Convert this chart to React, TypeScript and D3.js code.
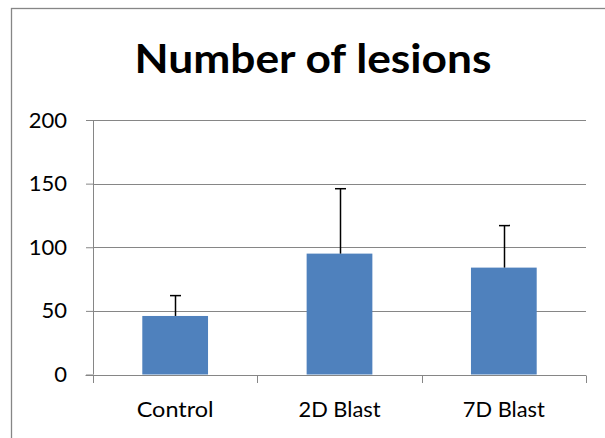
import React, { useEffect, useRef } from 'react';
import * as d3 from 'd3';

const categories = ['Control', '2D Blast', '7D Blast'];
const means = [46, 95, 84];
const errTops = [62, 146, 117];
const yTicks = [0, 50, 100, 150, 200];
const title = 'Number of lesions';

const W = 605;
const H = 438;

const App = () => {
  const svgRef = useRef<SVGSVGElement>(null);

  useEffect(() => {
    const svg = d3.select(svgRef.current);
    svg.selectAll('*').remove();

    const font = 'Lato, "Noto Sans", sans-serif';
    const plot = { left: 93, right: 586, top: 120, bottom: 374.5 };

    // chart area border (right and bottom edges are cut off in the picture)
    svg.append('rect')
      .attr('x', 11.5).attr('y', 8.5)
      .attr('width', W + 20).attr('height', H + 20)
      .attr('fill', '#fff').attr('stroke', '#868686').attr('stroke-width', 1.3);

    const x = d3.scaleBand()
      .domain(categories)
      .range([plot.left, plot.right])
      .paddingInner(0.6)
      .paddingOuter(0.3);

    const y = d3.scaleLinear().domain([0, 200]).range([plot.bottom, plot.top]);

    // gridlines
    svg.append('g').selectAll('line')
      .data(yTicks.filter(t => t > 0))
      .join('line')
      .attr('x1', plot.left).attr('x2', plot.right)
      .attr('y1', d => Math.round(y(d)) + 0.5).attr('y2', d => Math.round(y(d)) + 0.5)
      .attr('stroke', '#868686').attr('stroke-width', 1);

    // bars
    svg.append('g').selectAll('rect')
      .data(categories)
      .join('rect')
      .attr('x', d => x(d)!)
      .attr('y', (d, i) => y(means[i]))
      .attr('width', x.bandwidth())
      .attr('height', (d, i) => plot.bottom - y(means[i]))
      .attr('fill', '#4F81BD');

    // error bars (upper only)
    const eb = svg.append('g').attr('stroke', '#000').attr('stroke-width', 1.5);
    categories.forEach((c, i) => {
      const cx = Math.round(x(c)! + x.bandwidth() / 2) + 0.5;
      eb.append('line')
        .attr('x1', cx).attr('x2', cx)
        .attr('y1', y(means[i])).attr('y2', y(errTops[i]));
      eb.append('line')
        .attr('x1', cx - 5.5).attr('x2', cx + 5.5)
        .attr('y1', y(errTops[i])).attr('y2', y(errTops[i]));
    });

    // y axis
    const yAxis = svg.append('g')
      .attr('transform', `translate(${plot.left + 0.5},0)`)
      .call(d3.axisLeft(y).tickValues(yTicks).tickSize(7.5).tickPadding(19));
    yAxis.select('.domain').attr('stroke', '#868686').attr('d', `M0,${plot.top}V${plot.bottom}`);
    yAxis.selectAll('.tick line').attr('stroke', '#868686');
    yAxis.selectAll('.tick text')
      .attr('fill', '#000')
      .style('font-family', font)
      .style('font-size', '22px');

    // x axis
    const xAxis = svg.append('g')
      .attr('transform', `translate(0,${Math.round(plot.bottom) + 0.5})`);
    xAxis.append('line')
      .attr('x1', plot.left - 7.5).attr('x2', plot.right)
      .attr('stroke', '#868686');
    const step = x.step();
    d3.range(categories.length + 1).forEach(i => {
      const tx = Math.round(plot.left + i * step) + 0.5;
      xAxis.append('line')
        .attr('x1', tx).attr('x2', tx)
        .attr('y1', 0).attr('y2', 7.5)
        .attr('stroke', '#868686');
    });
    xAxis.selectAll('text.cat')
      .data(categories)
      .join('text')
      .attr('class', 'cat')
      .attr('x', d => x(d)! + x.bandwidth() / 2)
      .attr('y', 417 - Math.round(plot.bottom) - 0.5)
      .attr('text-anchor', 'middle')
      .attr('fill', '#000')
      .attr('textLength', d => (d === 'Control' ? 77 : 82))
      .attr('lengthAdjust', 'spacingAndGlyphs')
      .style('font-family', font)
      .style('font-size', '22px')
      .text(d => d);

    // title
    svg.append('text')
      .attr('x', 313)
      .attr('y', 72.5)
      .attr('text-anchor', 'middle')
      .attr('textLength', 357)
      .attr('lengthAdjust', 'spacingAndGlyphs')
      .style('font-family', font)
      .style('font-weight', 'bold')
      .style('font-size', '40px')
      .text(title);
  }, []);

  return (
    <div style={{ position: 'absolute', left: 0, top: 0 }}>
      <svg ref={svgRef} width={W} height={H} style={{ display: 'block' }}></svg>
    </div>
  );
};

export default App;
